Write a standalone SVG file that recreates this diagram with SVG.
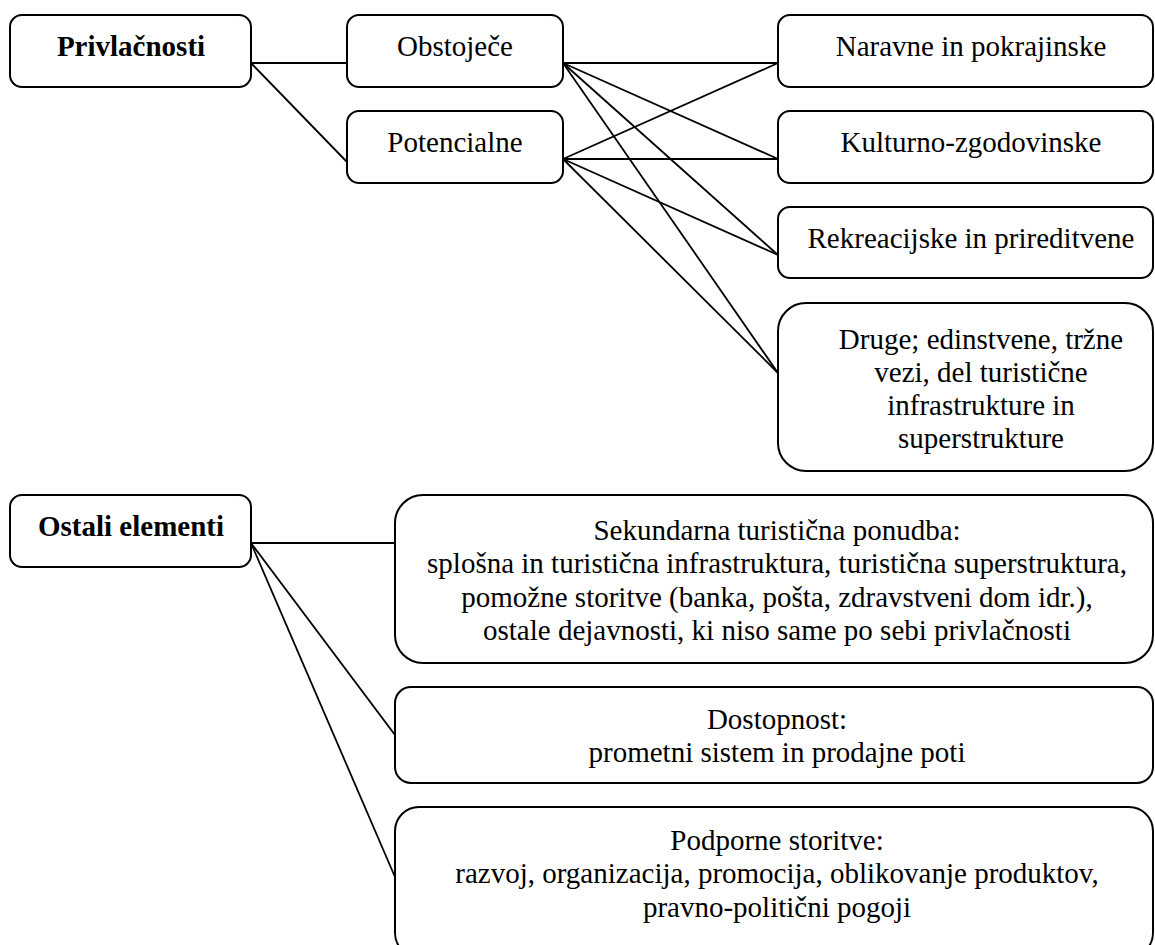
<svg xmlns="http://www.w3.org/2000/svg" width="1155" height="945" viewBox="0 0 1155 945">
<style>
.box{fill:#fff;stroke:#000;stroke-width:2}
.t{font-family:"Liberation Serif","Times New Roman",serif;font-size:29px;fill:#000;text-anchor:middle}
.b{font-weight:bold}
.conn line{stroke:#000;stroke-width:1.8}
</style>
<rect width="1155" height="945" fill="#fff"/>
<g id="connectors" class="conn">
<line x1="251" y1="63" x2="347" y2="63"/>
<line x1="251" y1="63" x2="347" y2="162"/>
<line x1="563" y1="63" x2="778" y2="63"/>
<line x1="563" y1="63" x2="778" y2="159"/>
<line x1="563" y1="63" x2="778" y2="255"/>
<line x1="563" y1="63" x2="778" y2="373"/>
<line x1="563" y1="159" x2="778" y2="63"/>
<line x1="563" y1="159" x2="778" y2="159"/>
<line x1="563" y1="159" x2="778" y2="255"/>
<line x1="563" y1="159" x2="778" y2="373"/>
<line x1="251" y1="543" x2="395" y2="543"/>
<line x1="251" y1="543" x2="395" y2="735"/>
<line x1="251" y1="543" x2="395" y2="877"/>
</g>
<g id="privlacnosti">
<rect class="box" x="10" y="15" width="241" height="72" rx="12"/>
<text class="t b" x="131" y="56">Privlačnosti</text>
</g>
<g id="obstojece">
<rect class="box" x="347" y="15" width="216" height="72" rx="12"/>
<text class="t" x="455" y="56">Obstoječe</text>
</g>
<g id="potencialne">
<rect class="box" x="347" y="111" width="216" height="72" rx="12"/>
<text class="t" x="455" y="152">Potencialne</text>
</g>
<g id="naravne">
<rect class="box" x="778" y="15" width="375" height="72" rx="12"/>
<text class="t" x="971" y="56">Naravne in pokrajinske</text>
</g>
<g id="kulturno">
<rect class="box" x="778" y="111" width="375" height="72" rx="12"/>
<text class="t" x="971" y="152">Kulturno-zgodovinske</text>
</g>
<g id="rekreacijske">
<rect class="box" x="778" y="207" width="375" height="71" rx="12"/>
<text class="t" x="971" y="248">Rekreacijske in prireditvene</text>
</g>
<g id="druge">
<rect class="box" x="778" y="303" width="375" height="168" rx="28"/>
<text class="t" x="981" y="349">Druge; edinstvene, tržne</text>
<text class="t" x="981" y="382">vezi, del turistične</text>
<text class="t" x="981" y="415">infrastrukture in</text>
<text class="t" x="981" y="448">superstrukture</text>
</g>
<g id="ostali">
<rect class="box" x="10" y="495" width="241" height="72" rx="12"/>
<text class="t b" x="131" y="536">Ostali elementi</text>
</g>
<g id="sekundarna">
<rect class="box" x="395" y="495" width="758" height="168" rx="28"/>
<text class="t" x="777" y="540">Sekundarna turistična ponudba:</text>
<text class="t" x="777" y="573">splošna in turistična infrastruktura, turistična superstruktura,</text>
<text class="t" x="777" y="607">pomožne storitve (banka, pošta, zdravstveni dom idr.),</text>
<text class="t" x="777" y="640">ostale dejavnosti, ki niso same po sebi privlačnosti</text>
</g>
<g id="dostopnost">
<rect class="box" x="395" y="687" width="758" height="96" rx="16"/>
<text class="t" x="777" y="729">Dostopnost:</text>
<text class="t" x="777" y="762">prometni sistem in prodajne poti</text>
</g>
<g id="podporne">
<rect class="box" x="395" y="807" width="758" height="150" rx="24"/>
<text class="t" x="777" y="850">Podporne storitve:</text>
<text class="t" x="777" y="883">razvoj, organizacija, promocija, oblikovanje produktov,</text>
<text class="t" x="777" y="917">pravno-politični pogoji</text>
</g>
</svg>
